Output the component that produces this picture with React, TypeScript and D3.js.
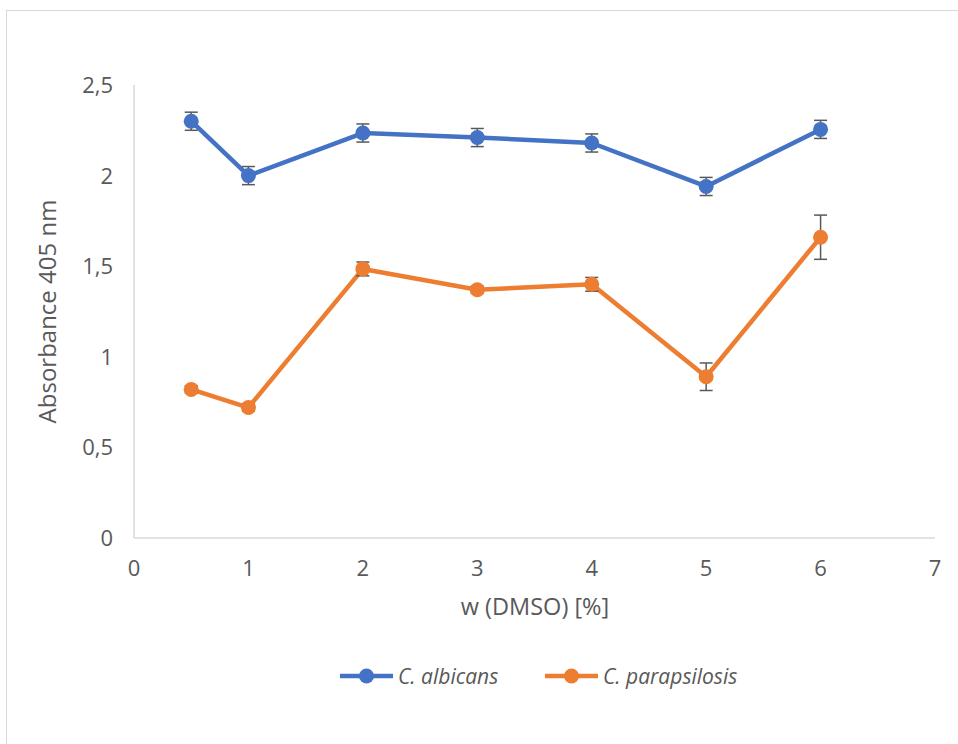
import React from "react";
import * as d3 from "d3";

const xValues = [0.5, 1, 2, 3, 4, 5, 6];
const albicans = [2.30, 2.00, 2.235, 2.21, 2.18, 1.94, 2.255];
const albicansErr = [0.05, 0.05, 0.05, 0.05, 0.05, 0.05, 0.05];
const parapsilosis = [0.82, 0.72, 1.485, 1.37, 1.40, 0.89, 1.66];
const parapsilosisErr = [0.02, 0.02, 0.038, 0.02, 0.038, 0.076, 0.122];
const xTicks = [0, 1, 2, 3, 4, 5, 6, 7];
const yTicks = [0, 0.5, 1, 1.5, 2, 2.5];

const series = [
  { name: "C. albicans", color: "#4472C4", values: albicans, errs: albicansErr },
  { name: "C. parapsilosis", color: "#ED7D31", values: parapsilosis, errs: parapsilosisErr },
];

const W = 958;
const H = 744;
const FONT = "'Open Sans', 'Liberation Sans', sans-serif";
const TEXT = "#595959";

export default function App() {
  const x = d3.scaleLinear().domain([0, 7]).range([134, 935]);
  const y = d3.scaleLinear().domain([0, 2.5]).range([538, 85]);
  const line = d3
    .line<number>()
    .x((_, i) => x(xValues[i]))
    .y((d) => y(d));
  const fmt = (v: number) => String(v).replace(".", ",");

  const legend = [
    { x0: 340, tx: 398 },
    { x0: 545, tx: 603 },
  ];

  return (
    <svg
      width={W}
      height={H}
      style={{ position: "absolute", left: 0, top: 0, background: "#fff" }}
    >
      <rect x={6.5} y={10.5} width={W + 10} height={H + 10} fill="#fff" stroke="#d9d9d9" strokeWidth={1} />
      {/* axes */}
      <line x1={x(0)} x2={x(0)} y1={y(2.5)} y2={y(0)} stroke="#d9d9d9" strokeWidth={1.5} />
      <line x1={x(0)} x2={x(7)} y1={y(0)} y2={y(0)} stroke="#d9d9d9" strokeWidth={1.5} />
      {yTicks.map((t) => (
        <text
          key={"y" + t}
          x={113}
          y={y(t)}
          dy="0.36em"
          textAnchor="end"
          fontFamily={FONT}
          fontSize={22}
          fill={TEXT}
        >
          {fmt(t)}
        </text>
      ))}
      {xTicks.map((t) => (
        <text
          key={"x" + t}
          x={x(t)}
          y={576}
          textAnchor="middle"
          fontFamily={FONT}
          fontSize={22}
          fill={TEXT}
        >
          {fmt(t)}
        </text>
      ))}
      <text
        x={535}
        y={615}
        textAnchor="middle"
        fontFamily={FONT}
        fontSize={23.5}
        fill={TEXT}
      >
        w (DMSO) [%]
      </text>
      <text
        transform={`translate(56, ${y(1.25)}) rotate(-90)`}
        textAnchor="middle"
        fontFamily={FONT}
        fontSize={24}
        fill={TEXT}
      >
        Absorbance 405 nm
      </text>
      {/* series */}
      {series.map((s) => (
        <g key={s.name}>
          <path d={line(s.values) || ""} fill="none" stroke={s.color} strokeWidth={4.5} strokeLinejoin="round" />
          {s.values.map((v, i) => (
            <g key={i}>
              <line x1={x(xValues[i])} x2={x(xValues[i])} y1={y(v - s.errs[i])} y2={y(v + s.errs[i])} stroke="#595959" strokeWidth={1.5} />
              <line x1={x(xValues[i]) - 6.5} x2={x(xValues[i]) + 6.5} y1={y(v - s.errs[i])} y2={y(v - s.errs[i])} stroke="#595959" strokeWidth={1.5} />
              <line x1={x(xValues[i]) - 6.5} x2={x(xValues[i]) + 6.5} y1={y(v + s.errs[i])} y2={y(v + s.errs[i])} stroke="#595959" strokeWidth={1.5} />
            </g>
          ))}
          {s.values.map((v, i) => (
            <circle key={"c" + i} cx={x(xValues[i])} cy={y(v)} r={7.5} fill={s.color} />
          ))}
        </g>
      ))}
      {/* legend */}
      {series.map((s, i) => (
        <g key={"lg" + i}>
          <line x1={legend[i].x0} x2={legend[i].x0 + 53} y1={676} y2={676} stroke={s.color} strokeWidth={4.5} />
          <circle cx={legend[i].x0 + 26.5} cy={676} r={7.5} fill={s.color} />
          <text
            x={legend[i].tx}
            y={676}
            dy="0.36em"
            fontFamily={FONT}
            fontSize={21}
            fontStyle="italic"
            fill={TEXT}
          >
            {s.name}
          </text>
        </g>
      ))}
    </svg>
  );
}
